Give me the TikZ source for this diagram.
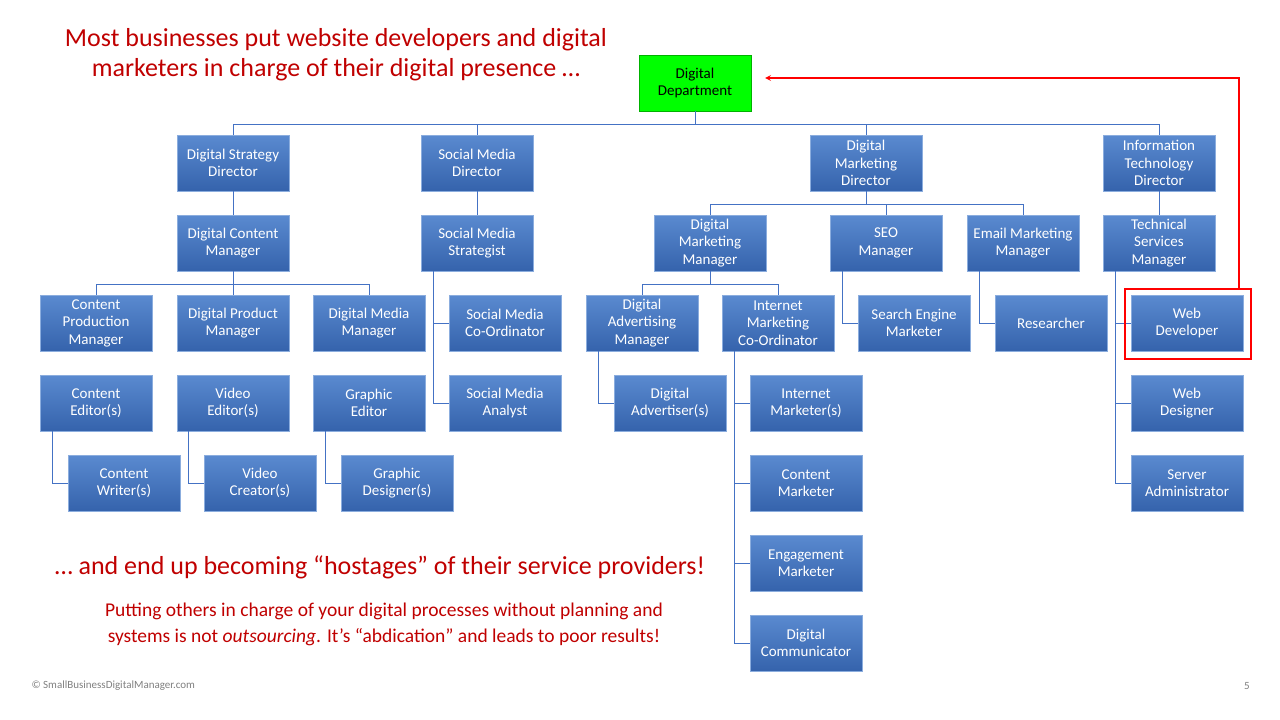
\documentclass[tikz,border=0pt]{standalone}
\usepackage{fontspec}
\setmainfont{Carlito}
\usetikzlibrary{positioning}
\definecolor{boxtop}{HTML}{5A8AD0}
\definecolor{boxbot}{HTML}{3563AC}
\definecolor{connblue}{HTML}{4472C4}
\definecolor{titlered}{HTML}{C00000}
\tikzset{
  unit/.style={draw=boxtop!70!white, top color=boxtop, bottom color=boxbot,
    text=white, align=center, minimum width=112pt, minimum height=56pt,
    inner sep=1pt, font=\fontsize{15}{17.5}\selectfont},
  conn/.style={draw=connblue, line width=0.8pt},
}
\begin{document}
\begin{tikzpicture}[x=1pt,y=-1pt]
  \useasboundingbox[fill=white] (0,0) rectangle (1280,720);

  \node[unit, top color=green, bottom color=green, draw=green!70!black, text=black] (dd) at (695,83) {Digital\\Department};

  % directors
  \node[unit] (dsd) at (233,163) {Digital Strategy\\Director};
  \node[unit] (smd) at (477,163) {Social Media\\Director};
  \node[unit] (dmd) at (866,163) {Digital\\Marketing\\Director};
  \node[unit] (itd) at (1159,163) {Information\\Technology\\Director};

  % managers
  \node[unit] (dcm) at (233,243) {Digital Content\\Manager};
  \node[unit] (sms) at (477,243) {Social Media\\Strategist};
  \node[unit] (dmm) at (710,243) {Digital\\Marketing\\Manager};
  \node[unit] (seo) at (886,243) {SEO\\Manager};
  \node[unit] (emm) at (1023,243) {Email Marketing\\Manager};
  \node[unit] (tsm) at (1159,243) {Technical\\Services\\Manager};

  % third row
  \node[unit] (cpm) at (96,323) {Content\\Production\\Manager};
  \node[unit] (dpm) at (233,323) {Digital Product\\Manager};
  \node[unit] (dmedia) at (369,323) {Digital Media\\Manager};
  \node[unit] (smc) at (505,323) {Social Media\\Co-Ordinator};
  \node[unit] (dam) at (642,323) {Digital\\Advertising\\Manager};
  \node[unit] (imc) at (778,323) {Internet\\Marketing\\Co-Ordinator};
  \node[unit] (sem) at (914,323) {Search Engine\\Marketer};
  \node[unit] (res) at (1051,323) {Researcher};
  \node[unit] (wdev) at (1187,323) {Web\\Developer};

  % fourth row
  \node[unit] (ced) at (96,403) {Content\\Editor(s)};
  \node[unit] (ved) at (233,403) {Video\\Editor(s)};
  \node[unit] (ged) at (369,403) {Graphic\\Editor};
  \node[unit] (sma) at (505,403) {Social Media\\Analyst};
  \node[unit] (dadv) at (670,403) {Digital\\Advertiser(s)};
  \node[unit] (imk) at (806,403) {Internet\\Marketer(s)};
  \node[unit] (wdes) at (1187,403) {Web\\Designer};

  % fifth row and below
  \node[unit] (cwr) at (124,483) {Content\\Writer(s)};
  \node[unit] (vcr) at (260,483) {Video\\Creator(s)};
  \node[unit] (gdes) at (397,483) {Graphic\\Designer(s)};
  \node[unit] (cmk) at (806,483) {Content\\Marketer};
  \node[unit] (srv) at (1187,483) {Server\\Administrator};
  \node[unit] (emk) at (806,563) {Engagement\\Marketer};
  \node[unit] (dcom) at (806,643) {Digital\\Communicator};

  % connectors
  \draw[conn] (dd.south) -- (695,124);
  \draw[conn] (dsd.north) -- (233,124) -| (itd.north);
  \draw[conn] (smd.north) -- (477,124);
  \draw[conn] (dmd.north) -- (866,124);
  \draw[conn] (dsd) -- (dcm);
  \draw[conn] (smd) -- (sms);
  \draw[conn] (itd) -- (tsm);
  \draw[conn] (dmd.south) -- (866,204);
  \draw[conn] (dmm.north) -- (710,204) -| (emm.north);
  \draw[conn] (seo.north) -- (886,204);
  \draw[conn] (dcm.south) -- (233,284);
  \draw[conn] (cpm.north) -- (96,284) -| (dmedia.north);
  \draw[conn] (dpm.north) -- (233,284);
  \draw[conn] (dmm.south) -- (710,284);
  \draw[conn] (dam.north) -- (642,284) -| (imc.north);
  \draw[conn] (433,271) |- (smc.west);
  \draw[conn] (433,300) |- (sma.west);
  \draw[conn] (842,271) |- (sem.west);
  \draw[conn] (979,271) |- (res.west);
  \draw[conn] (1115,271) |- (wdev.west);
  \draw[conn] (1115,300) |- (wdes.west);
  \draw[conn] (1115,380) |- (srv.west);
  \draw[conn] (52,431) |- (cwr.west);
  \draw[conn] (188,431) |- (vcr.west);
  \draw[conn] (325,431) |- (gdes.west);
  \draw[conn] (598,351) |- (dadv.west);
  \draw[conn] (734,351) |- (imk.west);
  \draw[conn] (734,380) |- (cmk.west);
  \draw[conn] (734,460) |- (emk.west);
  \draw[conn] (734,540) |- (dcom.west);

  % highlight
  \node[draw=red, line width=2pt, minimum width=126pt, minimum height=70pt] (hl) at (1188,324) {};
  \coordinate (hlup) at (1239,78);
  \coordinate (hlend) at (765,78);
  \draw[red, line width=1.6pt, ->, >=stealth] (hl.north -| hlup) -- (hlup) -- (hlend);

  % texts
  \node[text=titlered, align=center, font=\fontsize{26}{30}\selectfont] (title) at (336,55)
    {Most businesses put website developers and digital\\marketers in charge of their digital presence …};
  \node[text=titlered, font=\fontsize{26}{30}\selectfont] (hostage) at (380,567)
    {… and end up becoming “hostages” of their service providers!};
  \node[text=titlered, align=center, font=\fontsize{19.5}{26}\selectfont] (para) at (384,624)
    {Putting others in charge of your digital processes  without planning and\\systems is not \textit{outsourcing}. It’s “abdication”  and leads to poor results!};
  \node[text=gray, anchor=west, font=\fontsize{11}{12}\selectfont] (copy) at (28,686) {© SmallBusinessDigitalManager.com};
  \node[text=gray, font=\fontsize{11}{12}\selectfont] (page) at (1247,686) {5};
\end{tikzpicture}
\end{document}
